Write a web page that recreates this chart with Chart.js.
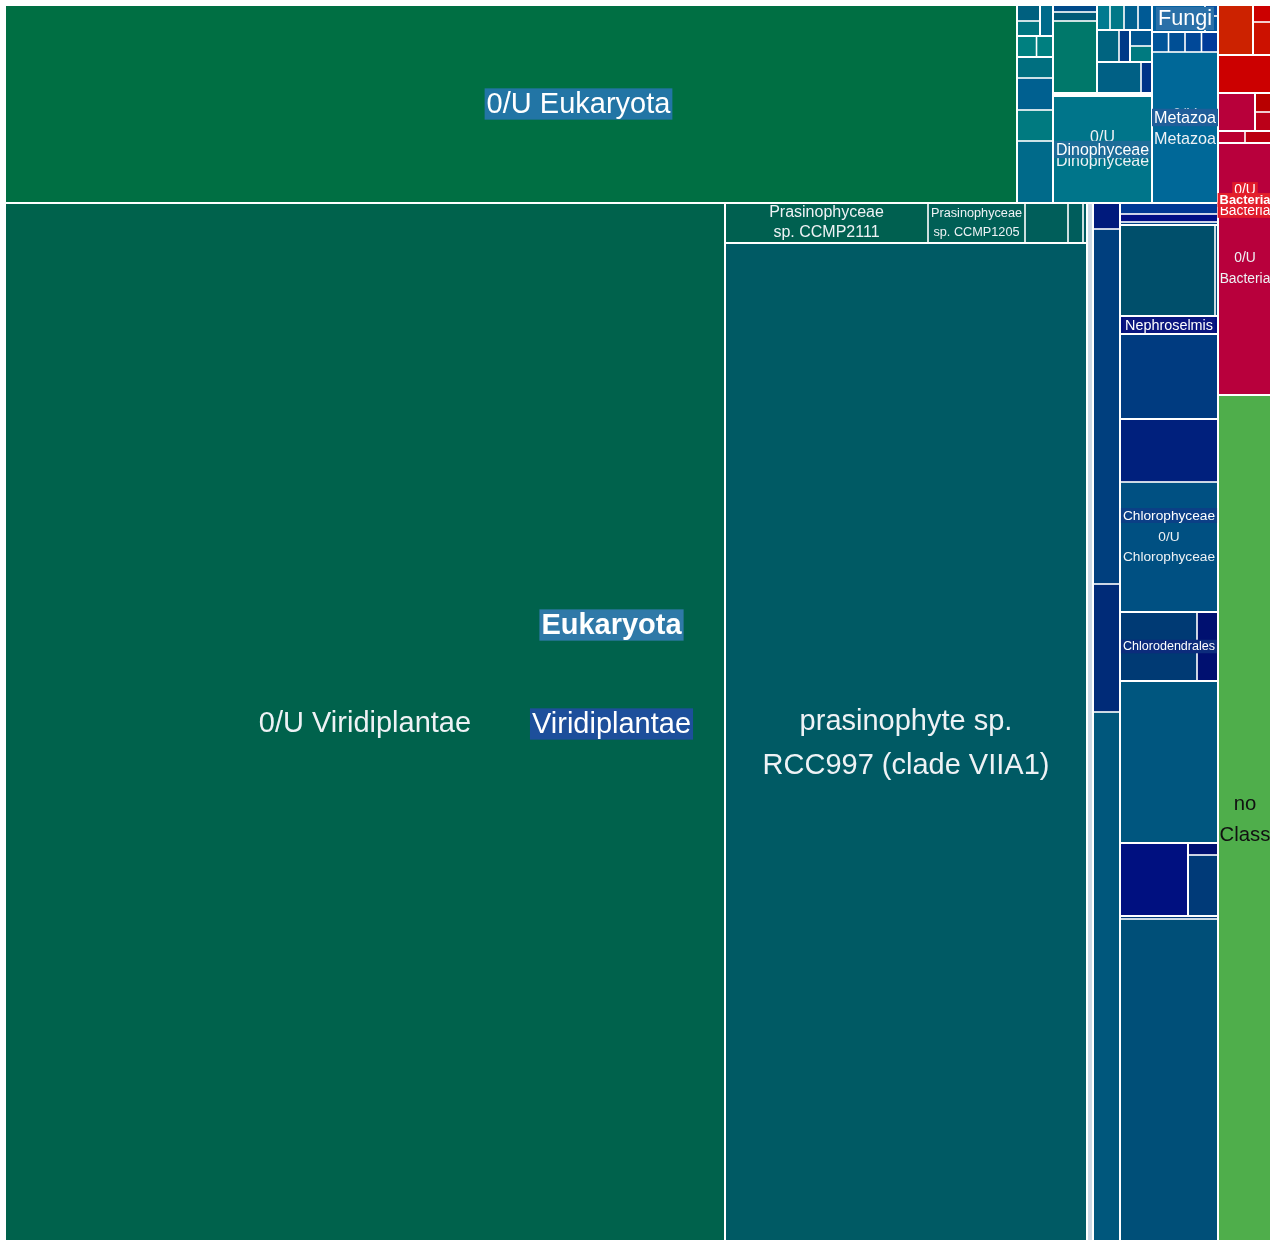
<!DOCTYPE html>
<html>
<head>
<meta charset="utf-8">
<script src="https://cdn.jsdelivr.net/npm/chart.js@4.4.0/dist/chart.umd.min.js"></script>
<style>
  html, body { margin: 0; padding: 0; background: #fff; overflow: hidden; }
  #wrap { position: absolute; left: 5px; top: 5px; width: 1267px; height: 1240px; }
</style>
</head>
<body>
<div id="wrap"><canvas id="tree"></canvas></div>
<script>
const SEP = ' > ';

// group paths (names starting with # are plain layout groups, no label)
const EU = 'Eukaryota';
const VI = EU + SEP + 'Viridiplantae';
const PR = VI + SEP + '#prasino';
const PT = PR + SEP + '#prasino-top';
const CB = VI + SEP + '#col-b';
const CC = VI + SEP + '#col-c';
const G1 = CC + SEP + '#g1';
const G1R = G1 + SEP + '#g1r';
const CD = CC + SEP + 'Chlorodendrales';
const CH = CC + SEP + 'Chlorophyceae';
const NE = CC + SEP + 'Nephroselmis';
const G2 = CC + SEP + '#g2';
const UE = EU + SEP + '0/U Eukaryota';
const C1 = UE + SEP + '#col-1';
const P1 = C1 + SEP + '#pair';
const TP = C1 + SEP + '#top1';
const TL = TP + SEP + '#tl';
const YY = UE + SEP + '#col-y';
const DI = YY + SEP + 'Dinophyceae';
const TT = YY + SEP + '#top';
const C2 = TT + SEP + '#col-2';
const C3 = TT + SEP + '#col-3';
const B3 = C3 + SEP + '#bot';
const M3 = C3 + SEP + '#mid';
const S3 = M3 + SEP + '#stack';
const T3 = C3 + SEP + '#top3';
const ME = EU + SEP + 'Metazoa';
const FU = EU + SEP + 'Fungi';
const FS = FU + SEP + '#stack-f';
const BA = 'Bacteria' + SEP + '0/U Bacteria';
const BP = BA + SEP + '#pair-b';
const B94 = BA + SEP + '#g94';
const S94 = B94 + SEP + '#s94';
const B5 = BA + SEP + '#g5';
const S5 = B5 + SEP + '#s5';

const leafParents = [
    VI, PR, PT, PT, PT, PT, PT,
    VI, VI, VI, CB, CB, CB, CB,
    CC, CC, G1, G1R, G1R, CC,
    CD, CD, CH, CH, CC, NE, G2, G2, CC, CC, CC,
    UE, C1, C1, C1, C1, P1, P1, TL, TL, TP,
    DI, YY, YY, C2, C2, C2,
    B3, B3, M3, M3, S3, S3, T3, T3, T3, T3,
    ME, ME, ME, ME, ME, FU, FS, FS,
    '', BA, BP, BP, B94, S94, S94, BA, B5, S5, S5
];

const leafNames = [
    '0/U Viridiplantae', 'prasinophyte sp. RCC997 (clade VIIA1)', 'Prasinophyceae sp. CCMP2111', 'Prasinophyceae sp. CCMP1205', '', '', '',
    '', '', '', '', '', '', '',
    '', '', '', '', '', '',
    '0/U Chlorodendrales', '', '0/U Chlorophyceae', '', '', '', '', '', '', '', '',
    '', '', '', '', '', '', '', '', '', '',
    '0/U Dinophyceae', '', '', '', '', '',
    '', '', '', '', '', '', '', '', '', '',
    '0/U Metazoa', '', '', '', '', '', '', '',
    'no Class', '0/U Bacteria', '', '', '', '', '', '', '', '', ''
];

const leafValues = [
    750240, 362724, 8120, 3880, 1720, 600, 160,
    2084, 2084, 2084, 14391, 3456, 9585, 702,
    31948, 294, 4964, 1830, 360, 15876,
    5313, 1449, 12740, 6174, 8330, 1764, 8645, 273, 294, 784, 1078,
    200376, 2232, 1116, 1152, 756, 410, 346, 345, 368, 403,
    10593, 149, 148, 3168, 396, 308,
    1364, 341, 704, 352, 352, 352, 325, 350, 350, 350,
    9966, 330, 330, 330, 330, 1431, 208, 143,
    45900, 13608, 324, 324, 1406, 323, 323, 2052, 1750, 627, 323
];

const leafColors = [
    '#00624c', '#005a64', '#006050', '#005f56', '#005e5a', '#005d5c', '#005a60',
    '#00457e', '#003a80', '#00507c', '#00577c', '#002b78', '#003f7e', '#001a7c',
    '#004f78', '#003a7a', '#001080', '#003a78', '#001070', '#00567f',
    '#003a74', '#001070', '#005082', '#00207d', '#003b80', '#000f80', '#004f6b', '#004a7a', '#003f88', '#000e85', '#003894',
    '#006f43', '#006a8a', '#007a80', '#006090', '#006f80', '#008080', '#007f80', '#007580', '#00607f', '#006a8a',
    '#00758a', '#005a80', '#004a8a', '#00786a', '#005a78', '#004a8a',
    '#006085', '#003388', '#006480', '#003a88', '#007a80', '#005590', '#007a90', '#007888', '#006090', '#005a95',
    '#006898', '#00559a', '#004f95', '#004898', '#003a9a', '#005f9e', '#00559c', '#0a4fa0',
    '#4fae4b', '#b8003c', '#bb0030', '#bb0010', '#b8003a', '#bb0018', '#b80000', '#cc0000', '#cc2200', '#cc1100', '#cc0000'
];

// background of the group labels
const groupLabelColors = {
    'Eukaryota': '#2f79a8',
    'Viridiplantae': '#1d4f9b',
    '0/U Eukaryota': '#2275a5',
    'Dinophyceae': '#1d6c98',
    'Metazoa': '#1f5e9a',
    'Fungi': '#2a70a8',
    'Chlorophyceae': '#0c3f86',
    'Chlorodendrales': '#0c2c7c',
    'Nephroselmis': '#0b167f',
    'Bacteria': '#e3202b',
    '0/U Bacteria': '#e01a2a'
};

// how a group splits its box (default squarify)
const groupTiling = {
    'Viridiplantae': 'cols', '#prasino-top': 'cols', '#col-b': 'rows', '#col-c': 'rows',
    '#g1': 'cols', '#g1r': 'rows', 'Chlorodendrales': 'cols', 'Chlorophyceae': 'rows', '#g2': 'cols',
    '0/U Eukaryota': 'cols', '#col-1': 'rows', '#pair': 'cols', '#top1': 'cols', '#tl': 'rows',
    '#col-y': 'rows', '#top': 'cols', '#col-2': 'rows', '#col-3': 'rows',
    '#bot': 'cols', '#mid': 'cols', '#stack': 'rows', '#top3': 'cols',
    'Fungi': 'cols', '#stack-f': 'rows',
    '0/U Bacteria': 'rows', '#pair-b': 'cols', '#g94': 'cols', '#s94': 'rows', '#g5': 'cols', '#s5': 'rows'
};

const FONT = '"Liberation Sans", Arial, Helvetica, sans-serif';
const MAX_FONT = 29;
const MIN_FONT = 11;
const PHI = (1 + Math.sqrt(5)) / 2;

// Construit l'arbre à partir des listes
function buildTree() {
    const root = { name: '', children: [], depth: 0 };
    const index = { '': root };
    leafParents.forEach((parentPath, i) => {
        let node = root;
        if (parentPath) {
            let key = '';
            parentPath.split(SEP).forEach(part => {
                key = key ? key + SEP + part : part;
                if (!index[key]) {
                    const g = { name: part, children: [], depth: node.depth + 1 };
                    node.children.push(g);
                    index[key] = g;
                }
                node = index[key];
            });
        }
        node.children.push({ name: leafNames[i], value: leafValues[i], color: leafColors[i], depth: node.depth + 1 });
    });
    (function sum(n) {
        if (n.children) n.value = n.children.reduce((acc, c) => acc + sum(c), 0);
        return n.value;
    })(root);
    return root;
}

function placeCols(nodes, x0, y0, x1, y1) {
    const total = nodes.reduce((a, n) => a + n.value, 0);
    let x = x0;
    nodes.forEach(n => {
        const w = (x1 - x0) * n.value / total;
        n.x0 = x; n.x1 = x + w; n.y0 = y0; n.y1 = y1;
        x += w;
    });
}

function placeRows(nodes, x0, y0, x1, y1) {
    const total = nodes.reduce((a, n) => a + n.value, 0);
    let y = y0;
    nodes.forEach(n => {
        const h = (y1 - y0) * n.value / total;
        n.x0 = x0; n.x1 = x1; n.y0 = y; n.y1 = y + h;
        y += h;
    });
}

// squarify (same idea as d3), y grows upward on the chart
function squarify(node, x0, y0, x1, y1, aspect) {
    const nodes = node.children;
    const n = nodes.length;
    let value = node.value, i0 = 0, i1 = 0;
    while (i0 < n) {
        const dx = (x1 - x0) * aspect, dy = y1 - y0;
        let sumValue = nodes[i1++].value;
        let minValue = sumValue, maxValue = sumValue;
        const alpha = Math.max(dy / dx, dx / dy) / (value * PHI);
        let beta = sumValue * sumValue * alpha;
        let minRatio = Math.max(maxValue / beta, beta / minValue);
        for (; i1 < n; ++i1) {
            const v = nodes[i1].value;
            sumValue += v;
            if (v < minValue) minValue = v;
            if (v > maxValue) maxValue = v;
            beta = sumValue * sumValue * alpha;
            const newRatio = Math.max(maxValue / beta, beta / minValue);
            if (newRatio > minRatio) { sumValue -= v; break; }
            minRatio = newRatio;
        }
        const row = nodes.slice(i0, i1);
        if (dx < dy) {
            const y = i1 < n ? y0 + (y1 - y0) * sumValue / value : y1;
            placeCols(row, x0, y0, x1, y);
            y0 = y;
        } else {
            const x = i1 < n ? x0 + (x1 - x0) * sumValue / value : x1;
            placeRows(row, x0, y0, x, y1);
            x0 = x;
        }
        value -= sumValue;
        i0 = i1;
    }
}

function layoutNode(node, aspect) {
    if (!node.children) return;
    const mode = groupTiling[node.name];
    if (mode === 'cols') placeCols(node.children, node.x0, node.y0, node.x1, node.y1);
    else if (mode === 'rows') placeRows(node.children, node.x0, node.y0, node.x1, node.y1);
    else squarify(node, node.x0, node.y0, node.x1, node.y1, aspect);
    node.children.forEach(c => layoutNode(c, aspect));
}

function fitLabel(ctx, text, w, h, bold) {
    ctx.font = (bold ? 'bold ' : '') + '100px ' + FONT;
    const m = s => ctx.measureText(s).width / 100;
    const words = text.split(' ');
    const options = [[text]];
    if (words.length > 1) {
        let best = null;
        for (let k = 1; k < words.length; k++) {
            const l = [words.slice(0, k).join(' '), words.slice(k).join(' ')];
            const wm = Math.max(m(l[0]), m(l[1]));
            if (!best || wm < best.wm) best = { l, wm };
        }
        options.push(best.l);
        if (words.length > 2) options.push(words);
    }
    let pick = null;
    options.forEach(lines => {
        const wm = Math.max(...lines.map(m));
        const size = Math.min(MAX_FONT, w * 0.94 / wm, h / (lines.length * 1.25));
        if (!pick || size > pick.size + 0.01) pick = { lines, size };
    });
    return pick;
}

function isLight(hex) {
    const r = parseInt(hex.substr(1, 2), 16) / 255;
    const g = parseInt(hex.substr(3, 2), 16) / 255;
    const b = parseInt(hex.substr(5, 2), 16) / 255;
    return 0.2126 * r + 0.7152 * g + 0.0722 * b > 0.4;
}

const tree = buildTree();

const treemapPlugin = {
    id: 'treemap',
    afterDatasetsDraw(chart) {
        const ctx = chart.ctx;
        const xs = chart.scales.x, ys = chart.scales.y;
        const area = chart.chartArea;
        const aspect = (area.right - area.left) / (area.bottom - area.top);

        tree.x0 = xs.min; tree.x1 = xs.max; tree.y0 = ys.min; tree.y1 = ys.max;
        layoutNode(tree, aspect);

        const leaves = [], groups = [];
        (function walk(n) {
            if (n.children) { if (n.depth > 0) groups.push(n); n.children.forEach(walk); }
            else leaves.push(n);
        })(tree);

        const box = n => {
            const l = xs.getPixelForValue(n.x0), r = xs.getPixelForValue(n.x1);
            const t = ys.getPixelForValue(n.y1), b = ys.getPixelForValue(n.y0);
            return { l, r, t, b, w: r - l, h: b - t, cx: (l + r) / 2, cy: (t + b) / 2 };
        };

        ctx.save();
        // cells
        const inset = 0.8;
        leaves.forEach(n => {
            const p = box(n);
            ctx.fillStyle = n.color;
            ctx.fillRect(p.l + inset, p.t + inset, Math.max(0, p.w - 2 * inset), Math.max(0, p.h - 2 * inset));
        });
        ctx.strokeStyle = '#ffffff';
        ctx.lineWidth = 2;
        groups.forEach(g => {
            const p = box(g);
            ctx.strokeRect(p.l, p.t, p.w, p.h);
        });

        ctx.textAlign = 'center';
        ctx.textBaseline = 'middle';

        // leaf labels
        leaves.forEach(n => {
            if (!n.name) return;
            const p = box(n);
            const fit = fitLabel(ctx, n.name, p.w, p.h, false);
            if (fit.size < MIN_FONT) return;
            const gap = Math.min(fit.size * 1.5, p.h / fit.lines.length);
            ctx.font = fit.size + 'px ' + FONT;
            ctx.fillStyle = isLight(n.color) ? '#111111' : '#eef2f5';
            fit.lines.forEach((line, i) => {
                ctx.fillText(line, p.cx, p.cy + (i - (fit.lines.length - 1) / 2) * gap);
            });
        });

        // group labels, deepest first so the top levels stay on top
        groups.filter(g => groupLabelColors[g.name])
            .sort((a, b) => b.depth - a.depth)
            .forEach(g => {
                const p = box(g);
                const bold = g.depth === 1;
                const fit = fitLabel(ctx, g.name, p.w, p.h, bold);
                const gap = Math.min(fit.size * 1.5, p.h / fit.lines.length);
                ctx.font = (bold ? 'bold ' : '') + fit.size + 'px ' + FONT;
                fit.lines.forEach((line, i) => {
                    const y = p.cy + (i - (fit.lines.length - 1) / 2) * gap;
                    const tw = ctx.measureText(line).width;
                    ctx.fillStyle = groupLabelColors[g.name];
                    ctx.fillRect(p.cx - tw / 2 - 2, y - fit.size * 0.54, tw + 4, fit.size * 1.08);
                    ctx.fillStyle = '#ffffff';
                    ctx.fillText(line, p.cx, y + fit.size * 0.04);
                });
            });
        ctx.restore();
    }
};

new Chart(document.getElementById('tree'), {
    type: 'scatter',
    data: { datasets: [{ label: 'reads', data: [], pointRadius: 0 }] },
    options: {
        responsive: true,
        maintainAspectRatio: false,
        animation: false,
        events: [],
        layout: { padding: 0 },
        scales: {
            x: { type: 'linear', min: 0, max: 1, display: false },
            y: { type: 'linear', min: 0, max: 1, display: false }
        },
        plugins: { legend: { display: false }, tooltip: { enabled: false } }
    },
    plugins: [treemapPlugin]
});
</script>
</body>
</html>
